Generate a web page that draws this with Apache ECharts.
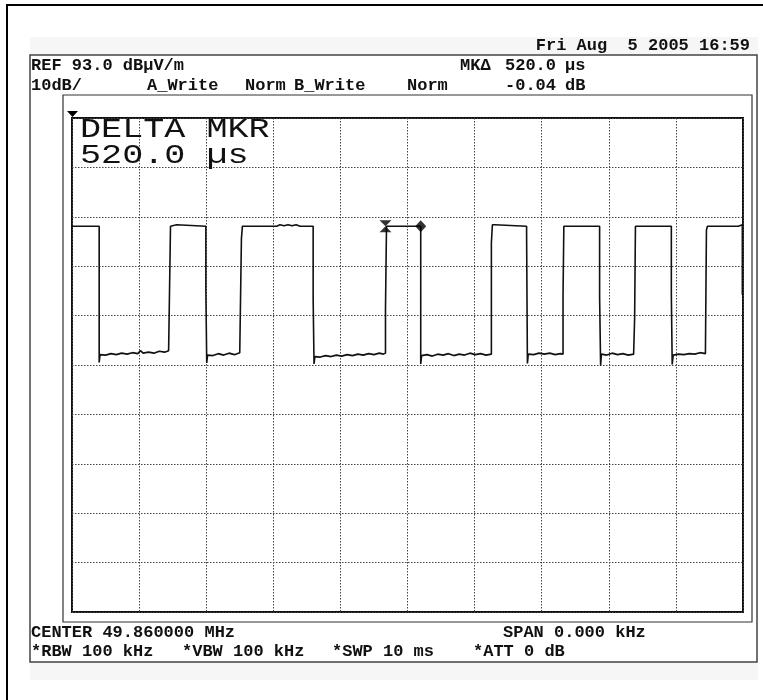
<!DOCTYPE html>
<html>
<head>
<meta charset="utf-8">
<script src="https://cdn.jsdelivr.net/npm/echarts@6/dist/echarts.min.js"></script>
<style>
  html,body{margin:0;padding:0;background:#fff;}
  #main{width:763px;height:700px;}
</style>
</head>
<body>
<div id="main"></div>
<script>
// sweep trace, [time ms, level dBuV/m]
var trace = [
  [0.000, 71.1], [0.405, 71.1],
  [0.405, 43.5], [0.418, 45.1], [0.50, 45.0], [0.58, 45.3], [0.66, 45.1], [0.74, 45.4], [0.82, 45.2], [0.90, 45.5], [0.98, 45.3], [1.02, 45.9], [1.06, 45.4], [1.14, 45.6], [1.22, 45.4], [1.30, 45.8], [1.38, 45.6], [1.44, 45.9], [1.468, 45.6],
  [1.468, 71.1], [1.49, 71.4], [1.56, 71.4], [1.57, 71.1], [1.995, 71.1],
  [1.995, 58.2], [2.008, 58.2], [2.008, 43.4], [2.02, 45.0], [2.10, 44.9], [2.18, 45.3], [2.26, 45.0], [2.34, 45.4], [2.42, 45.1], [2.50, 45.5], [2.525, 45.4],
  [2.525, 68.6], [2.54, 68.6], [2.54, 71.1], [3.05, 71.1], [3.10, 71.4], [3.16, 71.2], [3.22, 71.4], [3.28, 71.2], [3.34, 71.4], [3.40, 71.1], [3.594, 71.1],
  [3.594, 56.4], [3.607, 56.4], [3.607, 43.2], [3.62, 44.7], [3.70, 44.6], [3.78, 44.9], [3.86, 44.7], [3.94, 45.0], [4.02, 44.8], [4.10, 45.1], [4.18, 44.9], [4.26, 45.2], [4.34, 45.0], [4.42, 45.3], [4.50, 45.1], [4.58, 45.4], [4.64, 45.2], [4.672, 45.4],
  [4.672, 54.3], [4.687, 54.3], [4.687, 71.1], [5.197, 71.1],
  [5.197, 43.2], [5.21, 44.9], [5.29, 45.1], [5.37, 44.8], [5.45, 45.2], [5.53, 45.0], [5.61, 45.3], [5.69, 44.9], [5.77, 45.2], [5.85, 45.0], [5.93, 45.4], [6.01, 45.1], [6.09, 45.3], [6.17, 45.0], [6.25, 45.2],
  [6.25, 67.7], [6.265, 67.7], [6.265, 71.4], [6.30, 71.4], [6.30, 71.1], [6.775, 71.1],
  [6.775, 69.3], [6.787, 69.3], [6.787, 43.3], [6.80, 45.2], [6.88, 45.1], [6.96, 45.4], [7.04, 45.2], [7.12, 45.4], [7.20, 45.1], [7.28, 45.3], [7.318, 45.2],
  [7.318, 57.2], [7.33, 57.2], [7.33, 71.1], [7.863, 71.1],
  [7.863, 56.8], [7.878, 56.8], [7.878, 42.9], [7.89, 45.2], [7.97, 45.0], [8.05, 45.4], [8.13, 45.1], [8.21, 45.3], [8.29, 45.0], [8.37, 45.2], [8.385, 45.1],
  [8.385, 52.5], [8.397, 52.5], [8.397, 71.1], [8.932, 71.1],
  [8.932, 57.2], [8.945, 57.2], [8.945, 43.1], [8.96, 45.0], [9.04, 45.2], [9.12, 45.1], [9.20, 45.3], [9.28, 45.2], [9.36, 45.5], [9.44, 45.3], [9.455, 45.4],
  [9.455, 70.3], [9.47, 70.3], [9.47, 71.1], [9.93, 71.1], [9.95, 71.4], [9.99, 71.4],
  [9.99, 57.2]
];

// delta marker pair
var markerTime = [4.672, 5.197];
var markerLevel = [71.1, 71.1];

// screen scales: 10 ms sweep, REF 93 dB at top, 10 dB/div
var sweepMs = 10;
var refLevel = 93;
var dbPerDiv = 10;
var divs = 10;

var headerTop = ['REF 93.0 dB\u00b5V/m'];
var headerRow = ['10dB/', 'A_Write', 'Norm', 'B_Write', 'Norm'];
var footerRow1 = ['CENTER 49.860000 MHz', 'SPAN 0.000 kHz'];
var footerRow2 = ['*RBW 100 kHz', '*VBW 100 kHz', '*SWP 10 ms', '*ATT 0 dB'];

var small = 'bold 17px "Liberation Mono", "DejaVu Sans Mono", monospace';
var big = '27px "Liberation Mono", "DejaVu Sans Mono", monospace';

function txt(s, x, y, align, font, sx){
  return {
    type:'text', x:x, y:y, z:20, scaleX:sx||1,
    style:{text:s, x:0, y:0, font:font||small, fill:'#111',
      textAlign:align||'left', textVerticalAlign:'middle'}
  };
}

var myChart = echarts.init(document.getElementById('main'));

var dotted = {color:'#444', type:[1.5,1.5], width:1};

var option = {
  animation:false,
  backgroundColor:'#fff',
  grid:{left:72, top:118, width:671, height:494, show:true,
    borderColor:'#111', borderWidth:2, backgroundColor:'transparent'},
  xAxis:{
    type:'value', min:0, max:sweepMs, interval:1,
    axisLine:{show:false}, axisTick:{show:false}, axisLabel:{show:false},
    splitLine:{show:true, lineStyle:dotted}
  },
  yAxis:[{
    type:'value', min:refLevel-dbPerDiv*divs, max:refLevel, show:false
  },{
    // division grid only
    type:'value', min:0, max:divs, interval:1,
    axisLine:{show:false}, axisTick:{show:false}, axisLabel:{show:false},
    splitLine:{show:true, lineStyle:dotted}
  }],
  graphic:[
    {type:'rect', z:-10, shape:{x:7, y:5, width:800, height:800},
      style:{fill:'#fff', stroke:'#000', lineWidth:2}},
    {type:'rect', z:-9, shape:{x:30, y:37, width:728, height:643},
      style:{fill:'#f6f6f6'}},
    {type:'rect', z:-8, shape:{x:30, y:55, width:727, height:607},
      style:{fill:'#fff', stroke:'#444', lineWidth:1.5}},
    {type:'rect', z:-7, shape:{x:63, y:95, width:689, height:527},
      style:{fill:'#fff', stroke:'#333', lineWidth:1.2}},
    {type:'polygon', z:20, shape:{points:[[67,111],[78,111],[72.5,117]]},
      style:{fill:'#000'}},
    txt('Fri Aug  5 2005 16:59', 750, 46, 'right'),
    txt(headerTop[0], 31, 66),
    txt(headerRow[0], 31, 86),
    txt(headerRow[1], 147, 86),
    txt(headerRow[2], 245, 86),
    txt(headerRow[3], 294, 86),
    txt(headerRow[4], 407, 86),
    txt('MK\u0394', 460, 66),
    txt('520.0', 556, 66, 'right'),
    txt('\u00b5s', 565, 66),
    txt('-0.04', 556, 86, 'right'),
    txt('dB', 565, 86),
    txt('DELTA MKR', 80, 130, 'left', big, 1.3),
    txt('520.0 \u00b5s', 80, 156, 'left', big, 1.3),
    txt(footerRow1[0], 31, 633),
    txt(footerRow1[1], 503, 633),
    txt(footerRow2[0], 31, 652),
    txt(footerRow2[1], 182, 652),
    txt(footerRow2[2], 332, 652),
    txt(footerRow2[3], 473, 652)
  ],
  series:[{
    type:'line',
    data:trace,
    showSymbol:false,
    lineStyle:{color:'#111', width:1.6},
    clip:true
  },{
    type:'scatter',
    data:[
      {value:[markerTime[0], markerLevel[0]], symbol:'path://M0,0 L10,0 L5,6 L10,12 L0,12 L5,6 Z', symbolSize:[12,12]},
      {value:[markerTime[1], markerLevel[1]], symbol:'diamond', symbolSize:[11,12]}
    ],
    itemStyle:{color:'#000'},
    z:5
  }]
};

myChart.setOption(option);
</script>
</body>
</html>
